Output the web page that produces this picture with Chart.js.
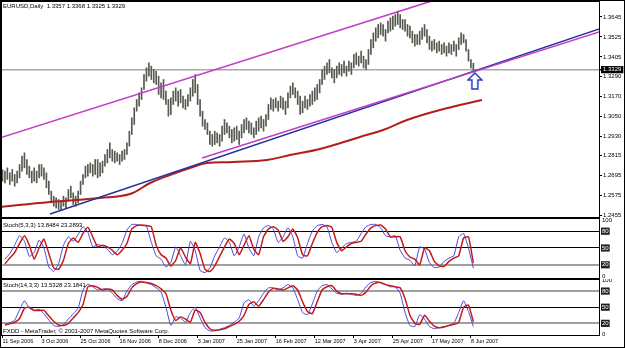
<!DOCTYPE html>
<html>
<head>
<meta charset="utf-8">
<script src="https://cdn.jsdelivr.net/npm/chart.js@4.4.1/dist/chart.umd.min.js"></script>
<style>
  html, body { margin: 0; padding: 0; background: #fff; }
  #page { position: relative; width: 625px; height: 348px; overflow: hidden; }
  #page canvas { position: absolute; left: 0; }
  #frame { position: absolute; left: 0; top: 0; width: 625px; height: 348px; box-sizing: border-box; border: 1px solid #000; pointer-events: none; }
</style>
</head>
<body>
<div id="page">
  <canvas id="price" width="625" height="218" style="top:0"></canvas>
  <canvas id="stoch1" width="625" height="61" style="top:218px"></canvas>
  <canvas id="stoch2" width="625" height="69" style="top:279px"></canvas>
  <div id="frame"></div>
</div>
<script>
Chart.defaults.font.family = "Liberation Sans";
Chart.defaults.font.size = 6;
Chart.defaults.color = "#000";

//bar index 0 = 11 Sep 2006, one step per trading day
const dateLabels = ["11 Sep 2006", "3 Oct 2006", "25 Oct 2006", "16 Nov 2006", "8 Dec 2006", "3 Jan 2007",
  "25 Jan 2007", "16 Feb 2007", "12 Mar 2007", "3 Apr 2007", "25 Apr 2007", "17 May 2007", "8 Jun 2007"];
const dateTickIdx = [0, 16, 32, 48, 64, 80, 96, 112, 128, 144, 160, 176, 192];

//daily lows and highs, EURUSD
const priceLow = [
  1.2660, 1.2650, 1.2670, 1.2640, 1.2660, 1.2630, 1.2650, 1.2680, 1.2720, 1.2740,
  1.2700, 1.2680, 1.2650, 1.2660, 1.2650, 1.2680, 1.2690, 1.2670, 1.2620, 1.2580,
  1.2530, 1.2510, 1.2500, 1.2490, 1.2485, 1.2510, 1.2500, 1.2540, 1.2560, 1.2520,
  1.2510, 1.2530, 1.2580, 1.2640, 1.2680, 1.2690, 1.2710, 1.2690, 1.2700, 1.2680,
  1.2690, 1.2710, 1.2750, 1.2770, 1.2800, 1.2780, 1.2770, 1.2780, 1.2760, 1.2780,
  1.2790, 1.2820, 1.2870, 1.2940, 1.3000, 1.3080, 1.3110, 1.3150, 1.3210, 1.3260,
  1.3290, 1.3270, 1.3250, 1.3240, 1.3180, 1.3160, 1.3150, 1.3120, 1.3050, 1.3060,
  1.3120, 1.3140, 1.3110, 1.3130, 1.3100, 1.3090, 1.3110, 1.3140, 1.3170, 1.3190,
  1.3120, 1.3050, 1.2990, 1.2970, 1.2940, 1.2880, 1.2870, 1.2880, 1.2890, 1.2870,
  1.2900, 1.2940, 1.2950, 1.2920, 1.2890, 1.2900, 1.2910, 1.2880, 1.2920, 1.2950,
  1.2970, 1.2950, 1.2940, 1.2920, 1.2940, 1.2960, 1.2980, 1.2960, 1.2990, 1.3030,
  1.3090, 1.3080, 1.3100, 1.3080, 1.3100, 1.3090, 1.3060, 1.3100, 1.3160, 1.3180,
  1.3160, 1.3120, 1.3060, 1.3070, 1.3100, 1.3090, 1.3110, 1.3120, 1.3140, 1.3150,
  1.3190, 1.3240, 1.3270, 1.3300, 1.3310, 1.3280, 1.3250, 1.3280, 1.3300, 1.3290,
  1.3310, 1.3290, 1.3320, 1.3300, 1.3340, 1.3360, 1.3350, 1.3370, 1.3340, 1.3330,
  1.3360, 1.3420, 1.3460, 1.3500, 1.3520, 1.3540, 1.3530, 1.3500, 1.3550, 1.3560,
  1.3570, 1.3590, 1.3600, 1.3580, 1.3570, 1.3560, 1.3530, 1.3520, 1.3490, 1.3470,
  1.3480, 1.3480, 1.3510, 1.3530, 1.3490, 1.3450, 1.3440, 1.3450, 1.3430, 1.3440,
  1.3420, 1.3430, 1.3410, 1.3430, 1.3420, 1.3440, 1.3410, 1.3450, 1.3480, 1.3490,
  1.3440, 1.3380, 1.3340, 1.3325
];
const priceHigh = [
  1.2730, 1.2720, 1.2740, 1.2710, 1.2730, 1.2700, 1.2720, 1.2760, 1.2810, 1.2830,
  1.2790, 1.2750, 1.2720, 1.2740, 1.2720, 1.2760, 1.2760, 1.2740, 1.2710, 1.2660,
  1.2600, 1.2570, 1.2560, 1.2550, 1.2545, 1.2570, 1.2560, 1.2610, 1.2630, 1.2590,
  1.2570, 1.2600, 1.2660, 1.2700, 1.2750, 1.2760, 1.2770, 1.2760, 1.2790, 1.2790,
  1.2770, 1.2780, 1.2820, 1.2850, 1.2890, 1.2850, 1.2840, 1.2830, 1.2820, 1.2840,
  1.2850, 1.2890, 1.2960, 1.3040, 1.3100, 1.3150, 1.3190, 1.3220, 1.3300, 1.3340,
  1.3370, 1.3350, 1.3330, 1.3320, 1.3290, 1.3250, 1.3270, 1.3200, 1.3150, 1.3160,
  1.3200, 1.3220, 1.3200, 1.3210, 1.3170, 1.3150, 1.3180, 1.3220, 1.3270, 1.3300,
  1.3240, 1.3150, 1.3080, 1.3030, 1.3010, 1.2960, 1.2940, 1.2960, 1.2950, 1.2940,
  1.2990, 1.3030, 1.3010, 1.2990, 1.2970, 1.2980, 1.2990, 1.2960, 1.3000, 1.3030,
  1.3040, 1.3020, 1.3010, 1.2980, 1.3020, 1.3040, 1.3050, 1.3030, 1.3060, 1.3120,
  1.3160, 1.3150, 1.3160, 1.3140, 1.3170, 1.3160, 1.3140, 1.3190, 1.3230, 1.3250,
  1.3220, 1.3200, 1.3170, 1.3140, 1.3170, 1.3150, 1.3180, 1.3200, 1.3220, 1.3240,
  1.3270, 1.3330, 1.3350, 1.3370, 1.3390, 1.3340, 1.3330, 1.3350, 1.3370, 1.3360,
  1.3380, 1.3350, 1.3380, 1.3370, 1.3420, 1.3430, 1.3410, 1.3440, 1.3410, 1.3390,
  1.3450, 1.3510, 1.3550, 1.3580, 1.3600, 1.3610, 1.3600, 1.3570, 1.3620, 1.3640,
  1.3650, 1.3660, 1.3680, 1.3660, 1.3630, 1.3630, 1.3600, 1.3590, 1.3560, 1.3540,
  1.3540, 1.3560, 1.3580, 1.3600, 1.3570, 1.3530, 1.3500, 1.3510, 1.3490, 1.3500,
  1.3480, 1.3490, 1.3470, 1.3490, 1.3480, 1.3500, 1.3480, 1.3520, 1.3550, 1.3540,
  1.3510, 1.3450, 1.3390, 1.3368
];
const priceTicks = [1.3645, 1.3525, 1.3405, 1.3290, 1.3170, 1.3050, 1.2930, 1.2815, 1.2695, 1.2575, 1.2455, 1.3329];
const bidPrice = 1.3329;

//moving average (red), read at a few bars
const maIdx = [-1, 19.5, 40, 52.3, 60.5, 68.6, 76.8, 83.8, 94.5, 108.4, 117.8, 130.1, 146.5, 156, 165.8, 179.3, 196.5];
const maValue = [1.2505, 1.2535, 1.2559, 1.2583, 1.2649, 1.2697, 1.2739, 1.2769, 1.2775, 1.2787, 1.2817, 1.2853, 1.2925, 1.2967, 1.3027, 1.3087, 1.3147];

//trend lines: [bar index, price] end points
const upperChannel = [[-1, 1.2920], [180, 1.3760]];
const lowerChannel = [[81.8, 1.2799], [246, 1.3562]];
const supportLine = [[19.5, 1.2463], [246, 1.3580]];
const arrowAt = [193.6, 1.3261];

//stochastics, one value every 2nd bar (bars 1,3,5,...,193)
const stochStep = 2;
const stoch1K = [
  30, 40, 55, 72, 62, 35, 42, 64, 50, 16,
  8, 22, 55, 70, 62, 74, 88, 78, 52, 56,
  54, 48, 38, 44, 58, 82, 92, 92, 90, 89,
  60, 36, 30, 16, 24, 52, 36, 20, 62, 45,
  10, 6, 14, 36, 52, 68, 60, 36, 52, 75,
  50, 36, 70, 86, 90, 84, 60, 70, 86, 70,
  36, 32, 58, 80, 90, 92, 88, 60, 42, 50,
  58, 60, 62, 76, 88, 92, 92, 86, 72, 70,
  72, 46, 32, 28, 18, 52, 48, 24, 15, 16,
  26, 32, 36, 70, 76, 50, 14
];
const stoch1D = [
  22, 32, 42, 58, 72, 55, 30, 50, 66, 40,
  14, 12, 28, 58, 68, 60, 76, 87, 70, 52,
  55, 52, 46, 38, 46, 58, 84, 90, 91, 90,
  88, 55, 38, 32, 18, 28, 50, 34, 22, 60,
  40, 12, 8, 18, 35, 52, 66, 58, 38, 55,
  72, 48, 38, 70, 84, 88, 82, 62, 70, 84,
  68, 38, 36, 58, 78, 88, 90, 87, 60, 45,
  52, 58, 60, 62, 75, 86, 90, 91, 84, 70,
  70, 70, 45, 34, 30, 20, 50, 45, 26, 18,
  17, 26, 32, 36, 68, 70, 23
];
const stoch2K = [
  18, 21, 26, 45, 62, 48, 44, 46, 38, 26,
  16, 14, 18, 28, 38, 48, 82, 93, 88, 82,
  84, 84, 76, 66, 62, 80, 92, 97, 98, 95,
  92, 86, 78, 50, 16, 32, 30, 22, 40, 50,
  30, 12, 6, 6, 9, 12, 16, 22, 30, 58,
  64, 52, 62, 76, 86, 86, 82, 86, 92, 86,
  64, 40, 36, 56, 80, 90, 92, 84, 76, 74,
  76, 74, 72, 76, 88, 96, 98, 95, 92, 88,
  88, 76, 40, 16, 14, 36, 28, 14, 10, 12,
  14, 16, 20, 40, 62, 42, 14
];
const stoch2D = [
  17, 19, 22, 29, 48, 50, 44, 44, 44, 34,
  24, 17, 16, 20, 30, 40, 55, 88, 90, 87,
  82, 84, 82, 72, 65, 70, 86, 94, 97, 96,
  94, 90, 84, 75, 45, 25, 32, 28, 22, 45,
  40, 22, 10, 7, 8, 10, 14, 18, 24, 35,
  55, 60, 52, 64, 78, 85, 84, 82, 86, 90,
  82, 60, 42, 38, 60, 82, 88, 90, 80, 75,
  75, 75, 74, 72, 78, 90, 95, 96, 92, 90,
  88, 86, 66, 35, 20, 18, 35, 24, 15, 12,
  13, 16, 18, 22, 50, 54, 23
];
const stochTicks = [0, 20, 50, 80, 100];
const boxedLevels = [20, 50, 80];

//hollow blue arrow marker
const arrowImg = document.createElement("canvas");
arrowImg.width = 16;
arrowImg.height = 18;
const a = arrowImg.getContext("2d");
a.beginPath();
a.moveTo(8, 1); a.lineTo(15, 8); a.lineTo(11, 8); a.lineTo(11, 17);
a.lineTo(5, 17); a.lineTo(5, 8); a.lineTo(1, 8); a.closePath();
a.fillStyle = "#fff";
a.fill();
a.strokeStyle = "#1d3fc4";
a.lineWidth = 1.5;
a.stroke();

//black frame round the plot area
const framePlugin = {
  id: "frame",
  afterDraw(chart) {
    const { ctx, chartArea: c } = chart;
    ctx.save();
    ctx.strokeStyle = "#000";
    ctx.lineWidth = 1;
    ctx.strokeRect(c.left - 0.5, c.top - 0.5, c.right - c.left + 1, c.bottom - c.top + 1);
    ctx.restore();
  },
};
//texts written inside the panels
const captionPlugin = {
  id: "caption",
  afterDraw(chart, args, opts) {
    const ctx = chart.ctx;
    ctx.save();
    ctx.fillStyle = "#000";
    ctx.font = "6px 'Liberation Sans'";
    ctx.textBaseline = "middle";
    (opts.lines || []).forEach((l) => ctx.fillText(l.text, l.x, l.y));
    ctx.restore();
  },
};

const xAxis = (show) => ({
  type: "linear",
  min: -0.2,
  max: 244.5,
  offset: false,
  display: show,
  afterBuildTicks: (s) => { s.ticks = dateTickIdx.map((v) => ({ value: v })); },
  afterFit: (s) => {
    if (show) s.height = 12;
    s.paddingLeft = 0;
    s.paddingRight = 0;
  },
  border: { display: false },
  grid: { drawOnChartArea: false, offset: false, tickLength: 3, color: "#000" },
  ticks: {
    autoSkip: false, maxRotation: 0, align: "start", padding: 0,
    font: { size: 5.5 },
    callback: (v, i) => dateLabels[i],
  },
});

const stochY = (min, max, levels) => ({
  position: "right",
  min: min,
  max: max,
  afterBuildTicks: (s) => { s.ticks = stochTicks.map((v) => ({ value: v })); },
  afterFit: (s) => { s.width = 26; s.paddingTop = 0; s.paddingBottom = 0; },
  border: { display: true, color: "#000" },
  grid: {
    drawTicks: false,
    color: (c) => (levels[c.tick.value] ? levels[c.tick.value][0] : "rgba(0,0,0,0)"),
    lineWidth: (c) => (levels[c.tick.value] ? levels[c.tick.value][1] : 1),
  },
  ticks: {
    autoSkip: false, padding: 3,
    callback: (v) => String(v),
    color: (c) => (boxedLevels.includes(c.tick.value) ? "#fff" : "#000"),
    showLabelBackdrop: (c) => boxedLevels.includes(c.tick.value),
    backdropColor: "#222",
    backdropPadding: { top: 0, bottom: 0, left: 1, right: 1 },
  },
});

const baseOptions = (padding) => ({
  responsive: false,
  animation: false,
  devicePixelRatio: 1,
  layout: { padding: padding, autoPadding: false },
  plugins: { legend: { display: false }, tooltip: { enabled: false } },
});

//price panel
const priceOpts = baseOptions({ left: 2, top: 2, right: 0, bottom: 1 });
priceOpts.plugins.caption = { lines: [{ text: "EURUSD,Daily  1.3357 1.3368 1.3325 1.3329", x: 3, y: 6.5 }] };
priceOpts.scales = {
  x: xAxis(false),
  y: {
    position: "right",
    min: 1.2445,
    max: 1.3735,
    afterBuildTicks: (s) => { s.ticks = priceTicks.map((v) => ({ value: v })); },
    afterFit: (s) => { s.width = 26; s.paddingTop = 0; s.paddingBottom = 0; },
    border: { display: true, color: "#000" },
    grid: {
      color: (c) => (c.tick && c.tick.value === bidPrice ? "#a8a8a8" : "rgba(0,0,0,0)"),
      lineWidth: (c) => (c.tick && c.tick.value === bidPrice ? 1.5 : 1),
      tickColor: "#000",
      tickLength: 3,
    },
    ticks: {
      autoSkip: false, padding: 1,
      callback: (v) => v.toFixed(4),
      color: (c) => (c.tick.value === bidPrice ? "#fff" : "#000"),
      showLabelBackdrop: (c) => c.tick.value === bidPrice,
      backdropColor: "#000",
      backdropPadding: { top: 0, bottom: 0, left: 2, right: 2 },
    },
  },
};

const lineSet = (pts, color, width) => ({
  type: "line",
  data: pts.map((p) => ({ x: p[0], y: p[1] })),
  borderColor: color,
  borderWidth: width,
  pointRadius: 0,
});

new Chart(document.getElementById("price"), {
  type: "line",
  data: {
    datasets: [
      {
        type: "line",
        data: [{ x: arrowAt[0], y: arrowAt[1] }],
        showLine: false,
        pointStyle: arrowImg,
        pointRadius: 8,
        order: 0,
      },
      Object.assign(lineSet(upperChannel, "#c23cc6", 1.6), { order: 1 }),
      Object.assign(lineSet(lowerChannel, "#c23cc6", 1.6), { order: 1 }),
      Object.assign(lineSet(supportLine, "#22349c", 1.4), { order: 1 }),
      {
        type: "line",
        data: maIdx.map((x, i) => ({ x: x, y: maValue[i] })),
        borderColor: "#b51d1d",
        borderWidth: 2,
        pointRadius: 0,
        tension: 0.4,
        order: 2,
      },
      {
        type: "bar",
        data: priceHigh.map((h, i) => ({ x: i, y: [priceLow[i], h] })),
        backgroundColor: "#55594f",
        barThickness: 1,
        grouped: false,
        order: 5,
      },
    ],
  },
  options: priceOpts,
  plugins: [framePlugin, captionPlugin],
});

const stochSets = (k, d) => [
  {
    data: d.map((v, i) => ({ x: 1 + stochStep * i, y: v })),
    borderColor: "#c41c1c",
    borderWidth: 1.5,
    pointRadius: 0,
    tension: 0.15,
  },
  {
    data: k.map((v, i) => ({ x: 1 + stochStep * i, y: v })),
    borderColor: "#4646dc",
    borderWidth: 1,
    pointRadius: 0,
    tension: 0.15,
  },
];

//Stoch(5,3,3)
const s1Opts = baseOptions({ left: 2, top: 1, right: 0, bottom: 1 });
s1Opts.plugins.caption = { lines: [{ text: "Stoch(5,3,3) 13.8484 23.2893", x: 3, y: 7 }] };
s1Opts.scales = {
  x: xAxis(false),
  y: stochY(-3.6, 101.8, { 80: ["#000", 1], 50: ["#000", 1], 20: ["#a0a0a0", 2] }),
};
new Chart(document.getElementById("stoch1"), {
  type: "line",
  data: { datasets: stochSets(stoch1K, stoch1D) },
  options: s1Opts,
  plugins: [framePlugin, captionPlugin],
});

//Stoch(14,3,3)
const s2Opts = baseOptions({ left: 2, top: 1, right: 0, bottom: 1 });
s2Opts.plugins.caption = {
  lines: [
    { text: "Stoch(14,3,3) 13.5328 23.1841", x: 3, y: 6 },
    { text: "FXDD - MetaTrader, \u00a9 2001-2007 MetaQuotes Software Corp.", x: 3, y: 52 },
  ],
};
s2Opts.scales = {
  x: xAxis(true),
  y: stochY(-1.7, 100.6, { 80: ["#a0a0a0", 2], 50: ["#000", 1], 20: ["#a0a0a0", 2] }),
};
new Chart(document.getElementById("stoch2"), {
  type: "line",
  data: { datasets: stochSets(stoch2K, stoch2D) },
  options: s2Opts,
  plugins: [framePlugin, captionPlugin],
});
</script>
</body>
</html>
